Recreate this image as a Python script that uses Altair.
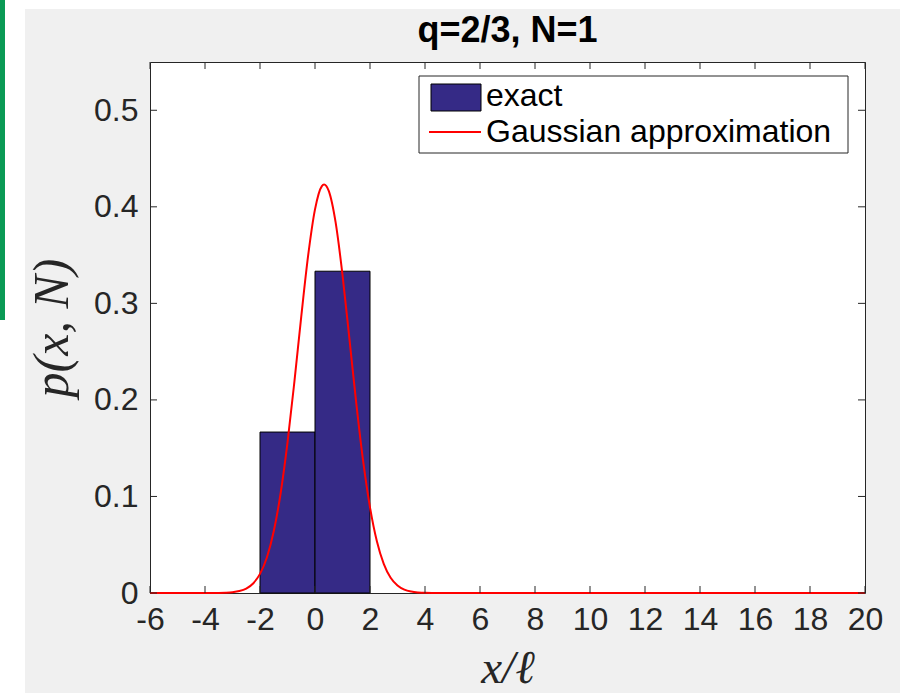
import altair as alt
import pandas as pd

# ---- data ----
BIN_START = [-2, 0]
BIN_END = [0, 2]
BIN_HEIGHT = [0.1667, 0.3333]

GAUSS_X = [-6, -4, -3.5, -3.25, -3, -2.75, -2.5, -2.25, -2, -1.75, -1.5, -1.25, -1,
           -0.75, -0.5, -0.25, 0, 0.25, 0.33, 0.5, 0.75, 1, 1.25, 1.5, 1.75, 2,
           2.25, 2.5, 2.75, 3, 3.25, 3.5, 3.75, 4, 4.5, 20]
GAUSS_Y = [0, 0.00001, 0.0001, 0.0003, 0.0008, 0.002, 0.0046, 0.0099, 0.0198, 0.0368,
           0.0639, 0.1033, 0.1557, 0.2187, 0.2863, 0.3494, 0.3974, 0.4215, 0.4231,
           0.4165, 0.3838, 0.3295, 0.2637, 0.1967, 0.1368, 0.0887, 0.0536, 0.0302,
           0.0158, 0.0078, 0.0035, 0.0015, 0.0006, 0.0002, 0.00002, 0]

X_TICKS = [-6, -4, -2, 0, 2, 4, 6, 8, 10, 12, 14, 16, 18, 20]
Y_TICKS = [0, 0.1, 0.2, 0.3, 0.4, 0.5]
X_DOMAIN = [-6, 20]
Y_DOMAIN = [0, 0.55]

TITLE = "q=2/3, N=1"
X_TITLE = "x/ℓ"
Y_TITLE = "p(x, N)"
LEGEND_LABELS = ["exact", "Gaussian approximation"]

BAR_COLOR = "#352a86"
LINE_COLOR = "#ff0000"
AX_COLOR = "#262626"

W, H = 715, 531

bars_df = pd.DataFrame({"x0": BIN_START, "x1": BIN_END, "h": BIN_HEIGHT})
gauss_df = pd.DataFrame({"x": GAUSS_X, "y": GAUSS_Y})
xt_df = pd.DataFrame({"t": X_TICKS})
yt_df = pd.DataFrame({"t": Y_TICKS})
one = pd.DataFrame({"k": [0]})

xscale = alt.Scale(domain=X_DOMAIN, nice=False, zero=False)
yscale = alt.Scale(domain=Y_DOMAIN, nice=False)

xaxis = alt.Axis(values=X_TICKS, labelExpr="'' + datum.value", ticks=False, domain=False,
                 grid=False, labelFont="Liberation Sans", labelFontSize=32,
                 labelColor=AX_COLOR, labelPadding=11, labelFlush=False, labelOverlap=False,
                 title=X_TITLE, titleFont="Liberation Serif", titleFontStyle="italic",
                 titleFontWeight="normal", titleFontSize=47, titleColor=AX_COLOR,
                 titleBaseline="alphabetic", titleY=89)
yaxis = alt.Axis(values=Y_TICKS,
                 labelExpr="datum.value == 0 ? '0' : format(datum.value, '.1f')",
                 ticks=False, domain=False, grid=False, labelFont="Liberation Sans",
                 labelFontSize=32, labelColor=AX_COLOR, labelPadding=12,
                 labelOverlap=False, labelFlush=False,
                 title=Y_TITLE, titleFont="Liberation Serif", titleFontStyle="italic",
                 titleFontWeight="normal", titleFontSize=50, titleColor=AX_COLOR,
                 titleBaseline="alphabetic", titleX=-83, titleAngle=-90)

# decorative screenshot edges
white_left = alt.Chart(one).mark_rect(color="white").encode(
    x=alt.value(-150), x2=alt.value(-125), y=alt.value(-62), y2=alt.value(631))
white_top = alt.Chart(one).mark_rect(color="white").encode(
    x=alt.value(-150), x2=alt.value(750), y=alt.value(-62), y2=alt.value(-53))
green = alt.Chart(one).mark_rect(color="#0a9a55").encode(
    x=alt.value(-150), x2=alt.value(-145), y=alt.value(-62), y2=alt.value(258))

title = alt.Chart(one).mark_text(text=TITLE, font="Liberation Sans", fontSize=36,
                                 fontWeight="bold", align="center", baseline="alphabetic",
                                 color="black").encode(
    x=alt.value(W / 2), y=alt.value(-20))

bars = alt.Chart(bars_df).mark_rect(color=BAR_COLOR, stroke="black", strokeWidth=1).encode(
    x=alt.X("x0:Q", scale=xscale, axis=xaxis),
    x2="x1:Q",
    y=alt.Y("h:Q", scale=yscale, axis=yaxis),
    y2=alt.datum(0),
)

line = alt.Chart(gauss_df).mark_line(color=LINE_COLOR, strokeWidth=2, interpolate="monotone").encode(
    x=alt.X("x:Q", scale=xscale),
    y=alt.Y("y:Q", scale=yscale),
)

tick_len = 7
xt_bottom = alt.Chart(xt_df).mark_rule(color=AX_COLOR, strokeWidth=1).encode(
    x=alt.X("t:Q", scale=xscale), y=alt.value(H), y2=alt.value(H - tick_len))
xt_top = alt.Chart(xt_df).mark_rule(color=AX_COLOR, strokeWidth=1).encode(
    x=alt.X("t:Q", scale=xscale), y=alt.value(0), y2=alt.value(tick_len))
yt_left = alt.Chart(yt_df).mark_rule(color=AX_COLOR, strokeWidth=1).encode(
    y=alt.Y("t:Q", scale=yscale), x=alt.value(0), x2=alt.value(tick_len))
yt_right = alt.Chart(yt_df).mark_rule(color=AX_COLOR, strokeWidth=1).encode(
    y=alt.Y("t:Q", scale=yscale), x=alt.value(W), x2=alt.value(W - tick_len))

# legend (drawn in pixel space, top-right inside the axes)
leg_box = alt.Chart(one).mark_rect(fill="white", stroke=AX_COLOR, strokeWidth=1).encode(
    x=alt.value(269), x2=alt.value(698), y=alt.value(14), y2=alt.value(91))
leg_swatch = alt.Chart(one).mark_rect(fill=BAR_COLOR, stroke="black", strokeWidth=1).encode(
    x=alt.value(281), x2=alt.value(331), y=alt.value(22), y2=alt.value(49))
leg_line = alt.Chart(one).mark_rule(color=LINE_COLOR, strokeWidth=2).encode(
    x=alt.value(279), x2=alt.value(331), y=alt.value(70))
leg_t1 = alt.Chart(one).mark_text(text=LEGEND_LABELS[0], font="Liberation Sans", fontSize=32,
                                  align="left", baseline="alphabetic", color="black").encode(
    x=alt.value(336), y=alt.value(44))
leg_t2 = alt.Chart(one).mark_text(text=LEGEND_LABELS[1], font="Liberation Sans", fontSize=32,
                                  align="left", baseline="alphabetic", color="black").encode(
    x=alt.value(336), y=alt.value(80))

chart = alt.layer(
    white_left, white_top, green, title,
    bars, line,
    xt_bottom, xt_top, yt_left, yt_right,
    leg_box, leg_swatch, leg_line, leg_t1, leg_t2,
).properties(
    width=W, height=H,
    autosize=alt.AutoSizeParams(type="none"),
    padding={"left": 150, "top": 62, "right": 35, "bottom": 100},
    background="#f0f0f0",
).configure_view(
    stroke=AX_COLOR, strokeWidth=1, fill="white"
)

chart.save("out.html", embed_options={"renderer": "svg", "actions": False})
